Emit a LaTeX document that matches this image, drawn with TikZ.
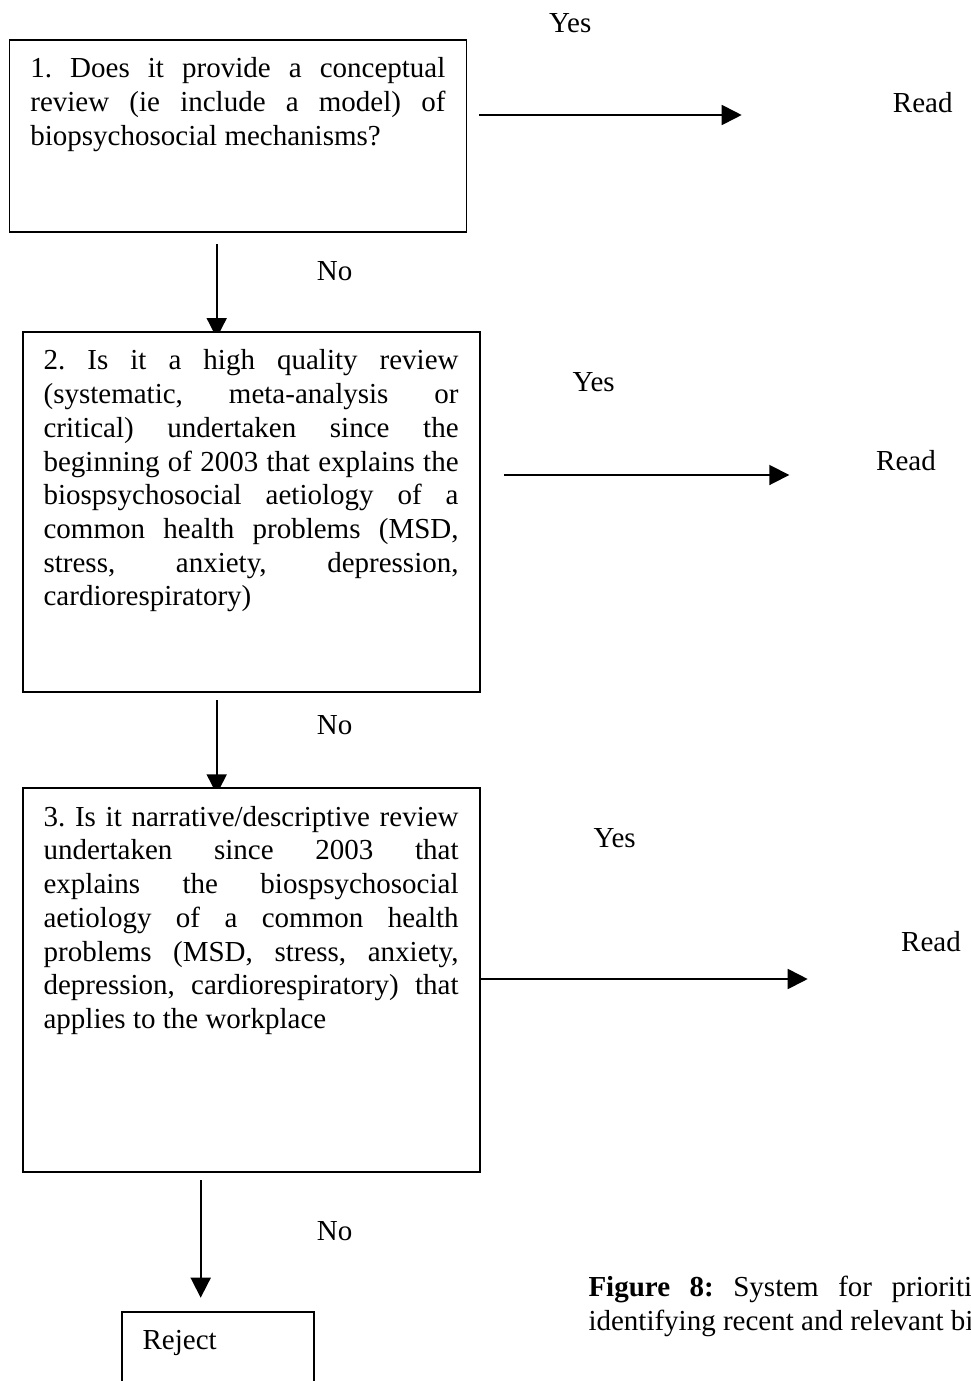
\documentclass[tikz,border=0pt]{standalone}
\usepackage{fontspec}
\setmainfont{Liberation Serif}
\usetikzlibrary{arrows.meta}
\pgfdeclarelayer{background}
\pgfdeclarelayer{paper}
\pgfsetlayers{paper,background,main}

% Question box text: width, total height, justified text with fixed first baseline
\newcommand{\qbody}[3]{\parbox[t][#2][t]{#1}{\frenchspacing\tolerance=10000
  \hyphenpenalty=10000\rule{0pt}{38pt}#3}}

\begin{document}
\begin{tikzpicture}[x=1pt,y=-1pt,
  every node/.style={font=\fontsize{29}{33.7}\selectfont, inner sep=0pt},
  qbox/.style={draw, line width=1.8pt, fill=white, anchor=north west,
    inner xsep=21pt, inner ysep=0pt},
  lbl/.style={anchor=base west},
  arr/.style={line width=1.8pt, -{Triangle[length=20pt,width=20pt]}}]

\useasboundingbox (0,0) rectangle (971,1381);
\clip (0,0) rectangle (971,1381);
\begin{pgfonlayer}{paper}
\fill[white] (0,0) rectangle (971,1381);
\end{pgfonlayer}

% decision boxes
\node[qbox] (q1) at (8.5,39) {\qbody{415pt}{192pt}{%
1. Does it provide a conceptual\linebreak
review (ie include a model) of\linebreak
biopsychosocial mechanisms?}};

\node[qbox] (q2) at (21.7,331) {\qbody{415pt}{359.7pt}{%
2. Is it a high quality review\linebreak
(systematic, meta-analysis or\linebreak
critical) undertaken since the\linebreak
beginning of 2003 that explains the\linebreak
biospsychosocial aetiology of a\linebreak
common health problems (MSD,\linebreak
stress, anxiety, depression,\linebreak
cardiorespiratory)}};

\node[qbox] (q3) at (21.7,787.3) {\qbody{415pt}{383.4pt}{%
3. Is it narrative/descriptive review\linebreak
undertaken since 2003 that\linebreak
explains the biospsychosocial\linebreak
aetiology of a common health\linebreak
problems (MSD, stress, anxiety,\linebreak
depression, cardiorespiratory) that\linebreak
applies to the workplace}};

\node[qbox] (rej) at (120.7,1311) {\qbody{150pt}{120pt}{Reject}};

% outcome labels
\node[lbl] (yes1) at (549,32.3) {Yes};
\node[lbl] (read1) at (892.7,112.3) {Read};
\node[lbl] (no1) at (316.7,280) {No};
\node[lbl] (yes2) at (572.3,391.7) {Yes};
\node[lbl] (read2) at (876,470.7) {Read};
\node[lbl] (no2) at (316.7,734.3) {No};
\node[lbl] (yes3) at (593.3,847.3) {Yes};
\node[lbl] (read3) at (901,951.7) {Read};
\node[lbl] (no3) at (316.7,1240) {No};

% caption
\node[anchor=base west] (cap) at (588.3,1296.7) {\parbox[t]{432pt}{%
\frenchspacing\tolerance=10000\hyphenpenalty=10000
\textbf{Figure 8:} System for prioritising\linebreak
\makebox[432pt][l]{identifying recent and relevant biopsychosocial reviews}}};

% arrow ends and vertical arrow lines
\coordinate (t1) at (741.7,115);
\coordinate (t2) at (789.3,475);
\coordinate (t3) at (807.7,979);
\coordinate (v1) at (216.7,0);
\coordinate (v3) at (200.7,0);

\begin{pgfonlayer}{background}
\draw[arr, shorten <=11.7pt] (q1.east |- t1) -- (t1);
\draw[arr, shorten <=23.4pt] (q2.east |- t2) -- (t2);
\draw[arr] (q3.east |- t3) -- (t3);
\draw[arr, shorten <=11.3pt, shorten >=-7pt] (q1.south -| v1) -- (q2.north -| v1);
\draw[arr, shorten <=7.6pt, shorten >=-7pt] (q2.south -| v1) -- (q3.north -| v1);
\draw[arr, shorten <=7.6pt, shorten >=13.3pt] (q3.south -| v3) -- (rej.north -| v3);
\end{pgfonlayer}
\end{tikzpicture}
\end{document}
